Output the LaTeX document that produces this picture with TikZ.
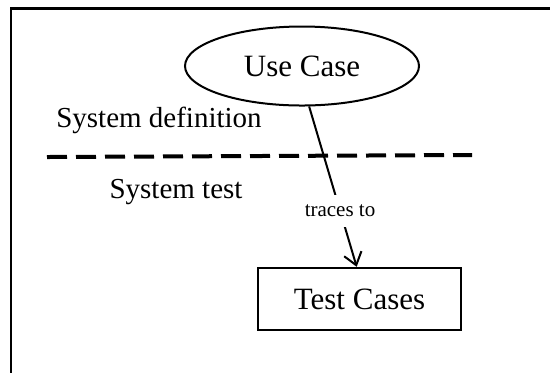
\documentclass[tikz,border=0pt]{standalone}
\usepackage{fontspec}
\setmainfont{Liberation Serif}
\usetikzlibrary{shapes.geometric,arrows.meta}

\begin{document}
\begin{tikzpicture}[
x=0.5pt,y=-0.5pt,
usecase/.style={
  draw,
  ellipse,
  line width=1pt,
  inner sep=0pt,
  minimum width=117pt,
  minimum height=39.5pt,
  font=\fontsize{15.5}{18}\selectfont
},
testbox/.style={
  draw,
  rectangle,
  line width=1.2pt,
  inner sep=0pt,
  minimum width=101.5pt,
  minimum height=31pt,
  font=\fontsize{15.5}{18}\selectfont
},
area/.style={
  anchor=base,
  font=\fontsize{14.5}{17}\selectfont
},
trace/.style={
  line width=1pt,
  -{Straight Barb[length=6pt,width=9pt,line width=1pt]}
}
]
\useasboundingbox (0,0) rectangle (550,372);
\clip (0,0) rectangle (550,372);

% frame, cut off at the right and at the bottom
\coordinate (fbot) at (11,380);
\coordinate (fcorner) at (11,8.5);
\coordinate (fright) at (560,8.5);
\draw[line width=1.25pt] (fbot) -- (fcorner) -- (fright);

\node[usecase] (uc) at (302,66) {Use Case};
\node[testbox] (tc) at (359.5,299) {Test Cases};

\node[area] (sysdef) at (159,127) {System definition};
\node[area] (systest) at (176,198) {System test};

% boundary between the two areas
\coordinate (sepl) at (47,157);
\coordinate (sepr) at (472,155);
\draw[line width=2pt,dash pattern=on 10pt off 4.5pt] (sepl) -- (sepr);

\draw[trace] (uc.-80) -- node[pos=0.65,fill=white,inner xsep=2pt,inner ysep=5pt,
  font=\fontsize{10.5}{12}\selectfont] (tr) {traces to} (tc.95);
\end{tikzpicture}
\end{document}
